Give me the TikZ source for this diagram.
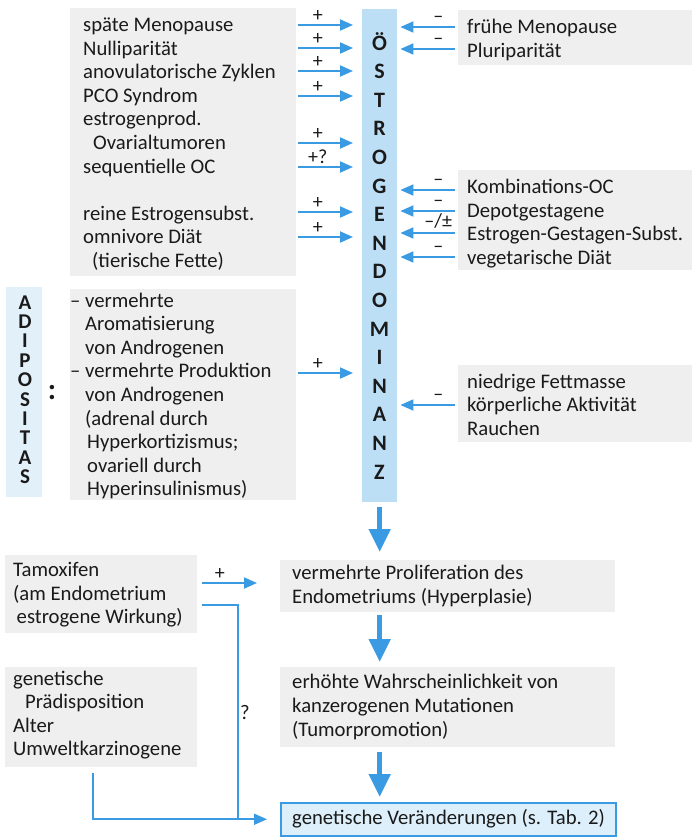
\documentclass[tikz,border=0pt]{standalone}
\usepackage{fontspec}
\setmainfont{Carlito}
\usetikzlibrary{arrows.meta}
\definecolor{ablue}{HTML}{3A9AE2}
\definecolor{colfill}{HTML}{BDDFF5}
\definecolor{bgray}{HTML}{EFEFEF}
\definecolor{adfill}{HTML}{E2F0FA}
\definecolor{genfill}{HTML}{DDEFFB}
\definecolor{txtc}{HTML}{1A1A1A}
\newcommand\mainfs{\fontsize{20.7}{23.6}\selectfont}
\newcommand\lblfs{\fontsize{20}{20}\selectfont}
\tikzset{
 bg/.style={fill=bgray, draw=none, inner sep=0pt, anchor=north west},
 txt/.style={font=\mainfs, text=txtc, inner sep=0pt, anchor=west, align=left},
 arr/.style={draw=ablue, line width=1.8pt, -{Triangle[length=13pt,width=11pt]}},
 lin/.style={draw=ablue, line width=1.8pt},
 bigarr/.style={draw=ablue, line width=5pt, -{Triangle[length=23pt,width=21pt]}},
 lbl/.style={font=\lblfs, text=txtc, inner sep=0pt},
 colletter/.style={font=\fontsize{22}{22}\selectfont\bfseries, text=txtc, inner sep=0pt, anchor=base},
 adletter/.style={font=\fontsize{21}{21}\selectfont\bfseries, text=txtc, inner sep=0pt, anchor=base},
}
\begin{document}
\begin{tikzpicture}[x=1pt,y=-1pt]
\useasboundingbox[fill=white] (0,0) rectangle (694,838);
% background blocks
\node[bg, minimum width=226pt, minimum height=268pt] (bgTL) at (70,8) {};
\node[bg, minimum width=226pt, minimum height=211pt] (bgAD) at (70,289) {};
\node[bg, minimum width=234pt, minimum height=55pt] (bgR1) at (458,10) {};
\node[bg, minimum width=234pt, minimum height=100pt] (bgR2) at (458,170) {};
\node[bg, minimum width=234pt, minimum height=77pt] (bgR3) at (458,365) {};
\node[bg, fill=adfill, minimum width=36pt, minimum height=210pt] (adstrip) at (6,287) {};
% column
\node[fill=colfill, inner sep=0pt, minimum width=35pt, minimum height=493pt, anchor=north west] (col) at (362,9) {};
\foreach \l [count=\i from 0] in {Ö,S,T,R,O,G,E,N,D,O,M,I,N,A,N,Z}
  \node[colletter] (c\i) at (379.5,{50+28.6*\i}) {\l};
\foreach \l [count=\i from 0] in {A,D,I,P,O,S,I,T,A,S}
  \node[adletter] (a\i) at (25,{309+19.4*\i}) {\l};
\node[font=\fontsize{30}{30}\selectfont\bfseries, text=txtc, inner sep=0pt] (colon) at (52,393) {:};
% texts
\node[txt] (tTL) at (83,144) {späte Menopause\\Nulliparität\\anovulatorische Zyklen\\PCO Syndrom\\estrogenprod.\\\hspace*{10pt}Ovarialtumoren\\sequentielle OC\\[23.6pt]reine Estrogensubst.\\omnivore Diät\\\hspace*{9pt}(tierische Fette)};
\node[txt] (tAD) at (70,396) {– vermehrte\\\phantom{– }Aromatisierung\\\phantom{– }von Androgenen\\– vermehrte Produktion\\\phantom{– }von Androgenen\\\phantom{– }(adrenal durch\\\phantom{– }\hspace*{2pt}Hyperkortizismus;\\\phantom{– }\hspace*{2pt}ovariell durch\\\phantom{– }\hspace*{2pt}Hyperinsulinismus)};
\node[txt] (tR1) at (467,40) {frühe Menopause\\Pluriparität};
\node[txt] (tR2) at (467,223.5) {Kombinations-OC\\Depotgestagene\\Estrogen-Gestagen-Subst.\\vegetarische Diät};
\node[txt] (tR3) at (467,404.5) {niedrige Fettmasse\\körperliche Aktivität\\Rauchen};
% arrows into column
\foreach \y/\lab [count=\i] in {25/+,48/+,71/+,96/+,143/+,167/+?,212/+,237/+,373/+} {
  \coordinate (la\i) at (298,\y);
  \draw[arr, shorten >=9pt] (la\i) -- (la\i -| col.west) node[lbl, pos=0.31, above=2.5pt] {\lab};
}
\foreach \y/\lab [count=\i] in {27/–,49/–,190/–,211/–,233/{–/±},257/–,405/–} {
  \coordinate (ra\i) at (455,\y);
  \draw[arr, shorten >=3pt] (ra\i) -- (ra\i -| col.east) node[lbl, pos=0.29, above=4pt] {\lab};
}
% lower section
\node[bg, minimum width=335pt, minimum height=52pt] (prolif) at (280,560) {};
\node[txt] (tprolif) at (292,586) {vermehrte Proliferation des\\Endometriums (Hyperplasie)};
\node[bg, minimum width=335pt, minimum height=80pt] (wahr) at (280,667) {};
\node[txt] (twahr) at (292,707) {erhöhte Wahrscheinlichkeit von\\kanzerogenen Mutationen\\(Tumorpromotion)};
\node[draw=ablue, line width=1.5pt, fill=genfill, minimum width=335pt, minimum height=33pt, anchor=north west, inner sep=0pt] (gen) at (280,802) {};
\node[txt] (tgen) at (292,818.5) {genetische Veränderungen (s. Tab. 2)};
\node[bg, minimum width=192pt, minimum height=78pt] (tamb) at (5,555) {};
\node[txt] (ttam) at (13,595) {Tamoxifen\\(am Endometrium\\\hspace*{3.5pt}estrogene Wirkung)};
\node[bg, minimum width=192pt, minimum height=100pt] (genb) at (5,667) {};
\node[txt] (tgenb) at (13,715) {genetische\\\hspace*{12pt}Prädisposition\\Alter\\Umweltkarzinogene};
% big arrows
\draw[bigarr, shorten <=5pt, shorten >=8pt] (col.south) -- (col.south |- prolif.north);
\draw[bigarr, shorten <=3pt, shorten >=5pt] (col.south |- prolif.south) -- (col.south |- wahr.north);
\draw[bigarr, shorten <=5pt, shorten >=5pt] (col.south |- wahr.south) -- (col.south |- gen.north);
% tamoxifen connectors
\coordinate (tam1) at (202,583);
\draw[arr, shorten >=23pt] (tam1) -- (tam1 -| prolif.west) node[lbl, pos=0.23, above=2.5pt] {+};
\coordinate (tam2) at (202,605);
\coordinate (join) at (238,818.5);
\draw[lin] (tam2) -| (join);
\node[font=\mainfs, text=txtc, inner sep=0pt] (q) at (245,712) {?};
\coordinate (g1) at (93,773);
\draw[arr, shorten >=13pt] (g1) |- (gen.west);
\end{tikzpicture}
\end{document}
